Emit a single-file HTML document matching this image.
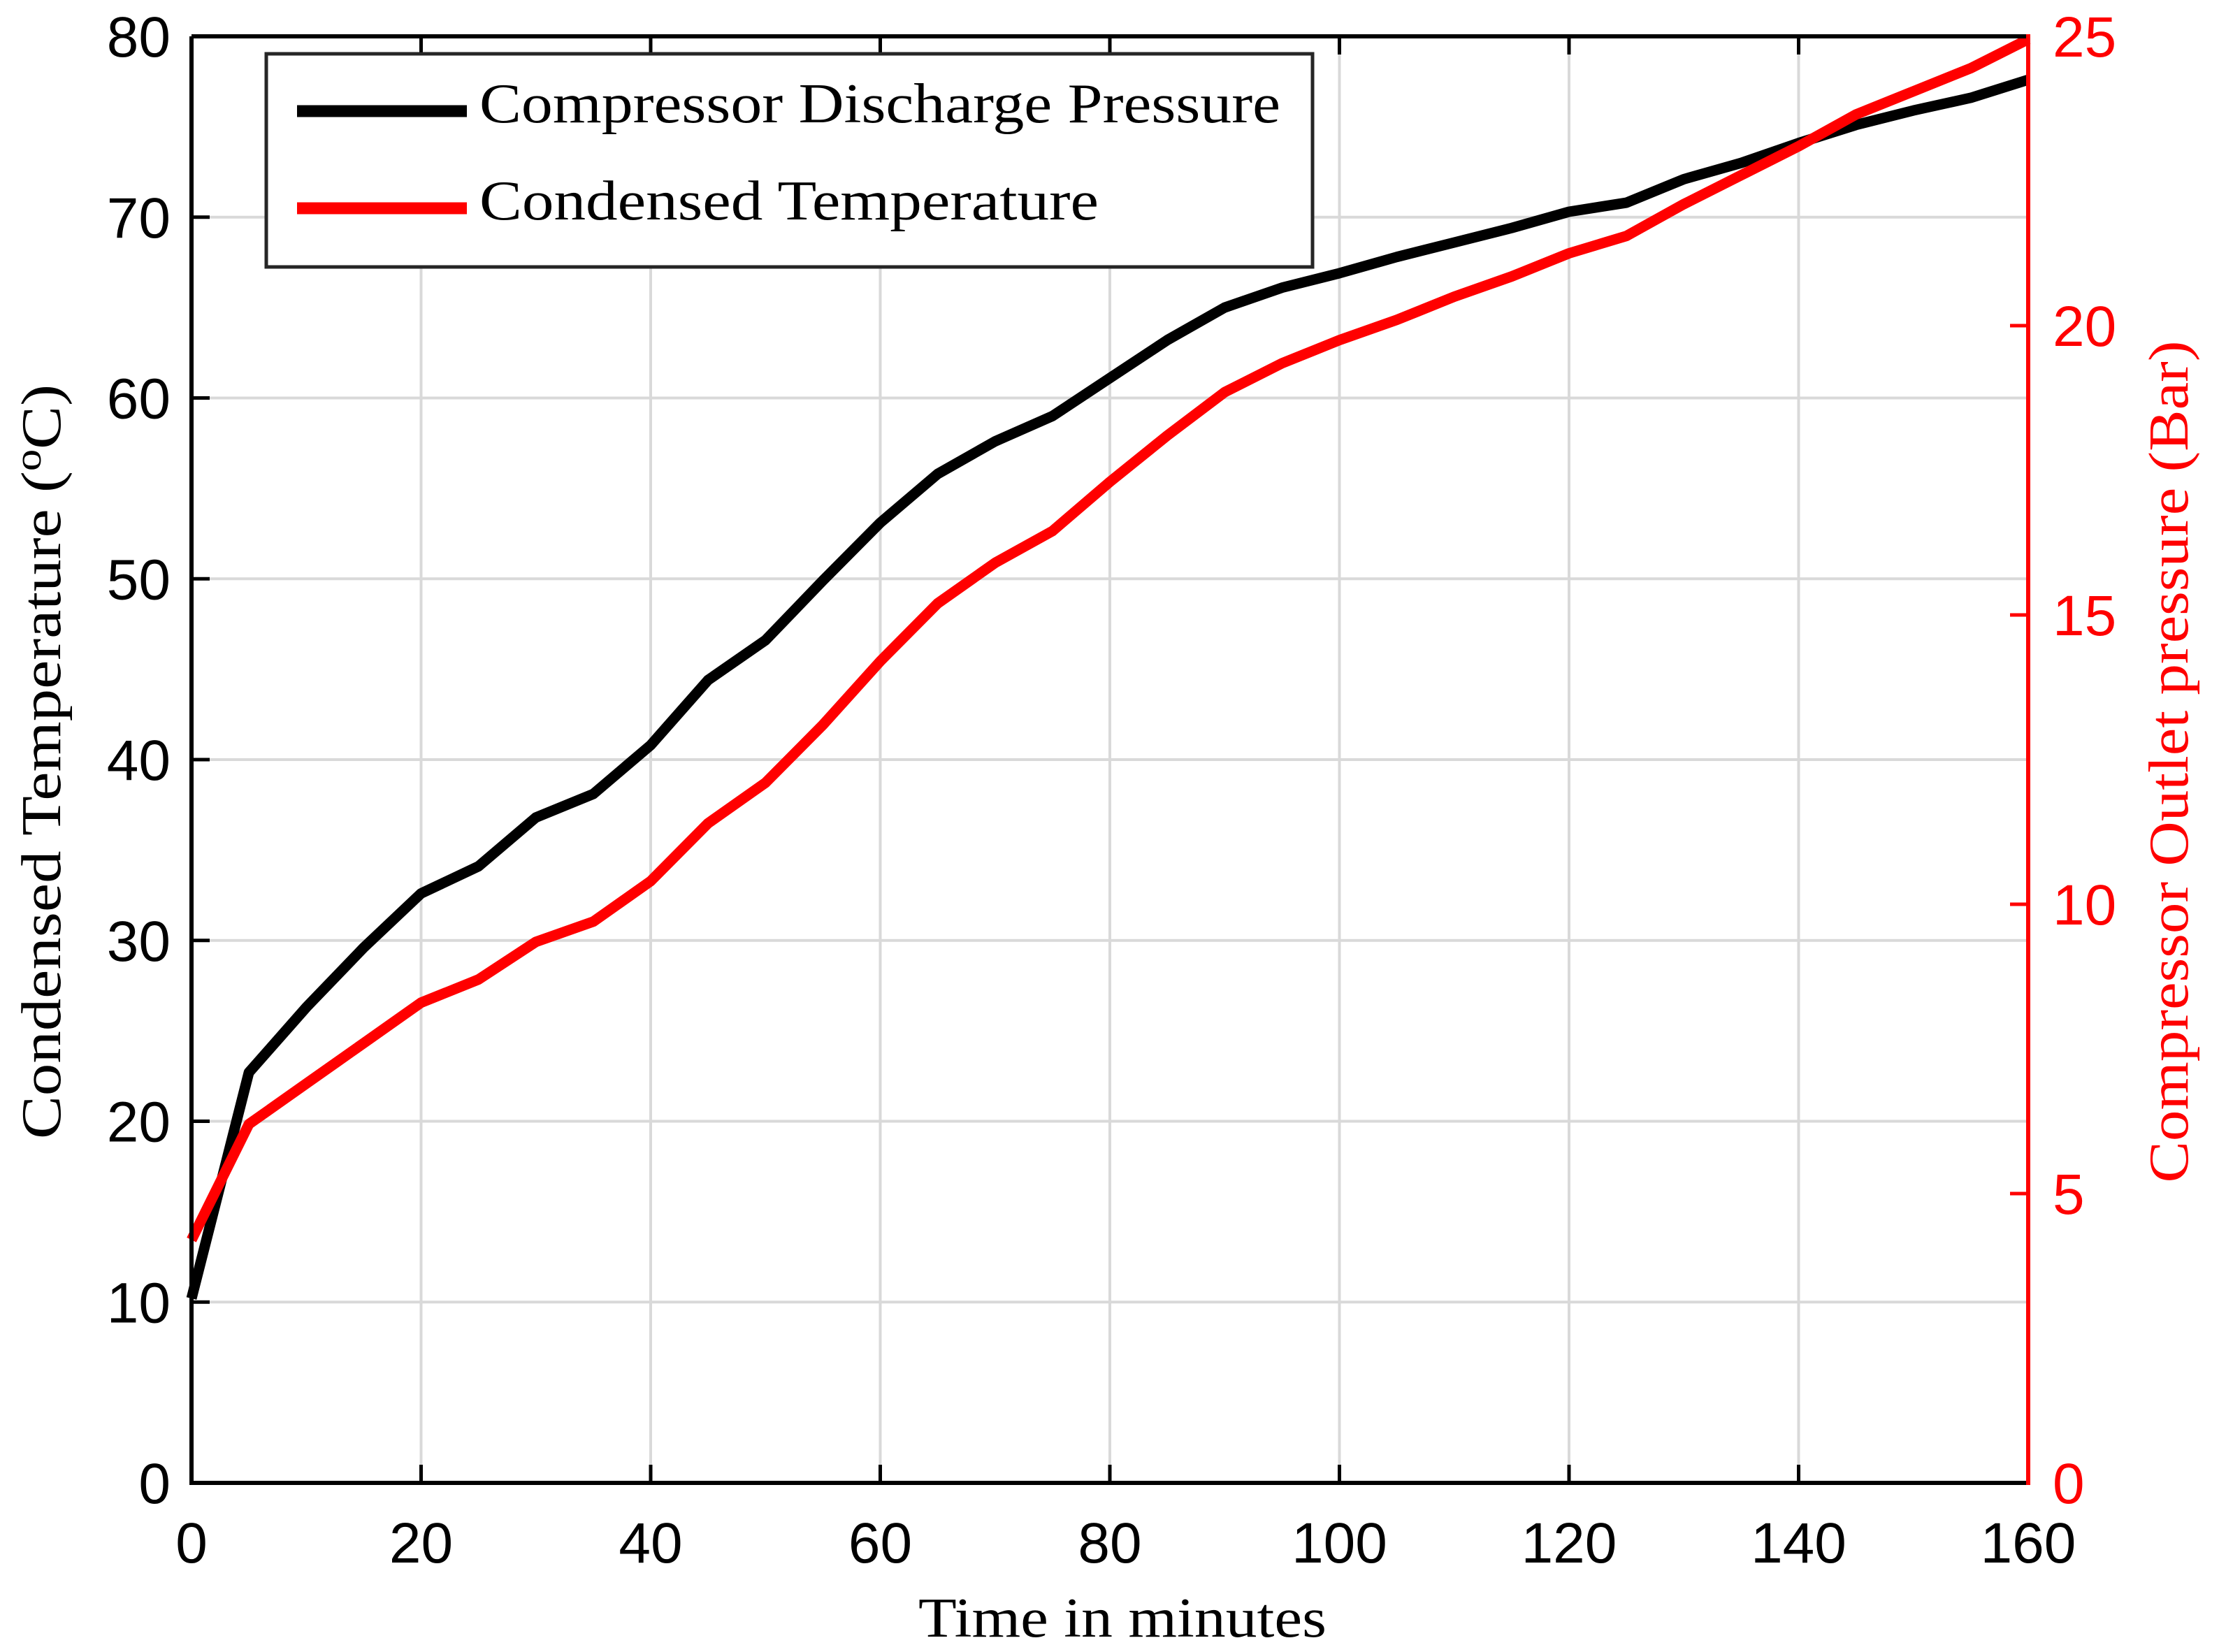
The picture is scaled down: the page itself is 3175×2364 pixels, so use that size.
<!DOCTYPE html>
<html><head><meta charset="utf-8"><style>
html,body{margin:0;padding:0;background:#fff;}
svg{display:block;}
.tk{font-family:"Liberation Sans",Arial,sans-serif;font-size:82px;}
.ser{font-family:"Liberation Serif","Times New Roman",serif;}
</style></head><body>
<svg id="chart" width="3175" height="2364" viewBox="0 0 3175 2364" xmlns="http://www.w3.org/2000/svg">
<g id="grid"></g>
<g id="series"></g>
<g id="axes"></g>
<g id="legend">
  <rect x="381" y="77" width="1497" height="305" fill="#fff" stroke="#262626" stroke-width="5"/>
  <line x1="425" y1="159" x2="668" y2="159" stroke="#000" stroke-width="17"/>
  <text class="ser" x="686" y="175" font-size="80" textLength="1146" lengthAdjust="spacingAndGlyphs">Compressor Discharge Pressure</text>
  <line x1="425" y1="298" x2="668" y2="298" stroke="#ff0000" stroke-width="17"/>
  <text class="ser" x="686" y="314" font-size="80" textLength="886" lengthAdjust="spacingAndGlyphs">Condensed Temperature</text>
</g>
<text class="ser" x="1606" y="2342" font-size="80" text-anchor="middle" textLength="584" lengthAdjust="spacingAndGlyphs">Time in minutes</text>
<text class="ser" font-size="80" text-anchor="middle" textLength="1080" lengthAdjust="spacingAndGlyphs" transform="translate(86,1090) rotate(-90)">Condensed Temperature  (<tspan font-size="54" dy="-28">o</tspan><tspan dy="28">C)</tspan></text>
<text class="ser" font-size="80" text-anchor="middle" fill="#ff0000" textLength="1205" lengthAdjust="spacingAndGlyphs" transform="translate(3130,1090) rotate(-90)">Compressor Outlet pressure (Bar)</text>
</svg>
<script>
const times = [0,5,10,15,20,25,30,35,40,45,50,55,60,65,70,75,80,85,90,95,100,105,110,115,120,125,130,135,140,145,150,155,160];
const pressureLeft = [10.2,22.7,26.3,29.6,32.6,34.1,36.8,38.1,40.8,44.4,46.6,49.9,53.1,55.8,57.6,59.0,61.1,63.2,65.0,66.1,66.9,67.8,68.6,69.4,70.3,70.8,72.1,73.0,74.1,75.1,75.9,76.6,77.6];
const tempRight = [4.2,6.2,6.9,7.6,8.3,8.7,9.35,9.7,10.4,11.4,12.1,13.1,14.2,15.2,15.9,16.45,17.3,18.1,18.85,19.35,19.75,20.1,20.5,20.85,21.25,21.55,22.1,22.6,23.1,23.65,24.05,24.45,24.95];
const xTicks = [0,20,40,60,80,100,120,140,160];
const yLeftTicks = [0,10,20,30,40,50,60,70,80];
const yRightTicks = [0,5,10,15,20,25];

const L=274,R=2902,T=52,B=2122;
const X=v=>L+(v-0)/(160-0)*(R-L);
const YL=v=>B-(v/80)*(B-T);
const YR=v=>B-(v/25)*(B-T);
const NS="http://www.w3.org/2000/svg";
function mk(tag,attrs,parent){const e=document.createElementNS(NS,tag);for(const k in attrs)e.setAttribute(k,attrs[k]);parent.appendChild(e);return e;}
const grid=document.getElementById('grid'),axes=document.getElementById('axes'),series=document.getElementById('series');

xTicks.forEach(v=>{
  const g=mk('line',{x1:X(v),x2:X(v),y1:T,y2:B,stroke:'#d9d9d9','stroke-width':4},grid);
  
  
  const t1=mk('line',{x1:X(v),x2:X(v),y1:B,y2:B-26,stroke:'#000','stroke-width':5},axes);
  
  
  const t2=mk('line',{x1:X(v),x2:X(v),y1:T,y2:T+26,stroke:'#000','stroke-width':5},axes);
  
  
  const lb=mk('text',{x:X(v),y:B+114,'text-anchor':'middle','class':'tk'},axes);
  lb.textContent=v;
  
  
});
yLeftTicks.forEach(v=>{
  const g=mk('line',{x1:L,x2:R,y1:YL(v),y2:YL(v),stroke:'#d9d9d9','stroke-width':4},grid);
  
  
  const t=mk('line',{x1:L,x2:L+26,y1:YL(v),y2:YL(v),stroke:'#000','stroke-width':5},axes);
  
  
  const lb=mk('text',{x:L-30,y:YL(v)+29,'text-anchor':'end','class':'tk'},axes);
  lb.textContent=v;
  
  
});
yRightTicks.forEach(v=>{
  const t=mk('line',{x1:R,x2:R-26,y1:YR(v),y2:YR(v),stroke:'#ff0000','stroke-width':5},axes);
  
  
  const lb=mk('text',{x:R+35,y:YR(v)+29,'text-anchor':'start','class':'tk',fill:'#ff0000'},axes);
  lb.textContent=v;
  
  
});
const ax1=mk('path',{d:`M${L},${T}H${R} M${L},${T}V${B}H${R}`,fill:'none',stroke:'#000','stroke-width':6},axes);


const ax2=mk('line',{x1:R,x2:R,y1:T-3,y2:B+3,stroke:'#ff0000','stroke-width':6},axes);



const pBlack=mk('polyline',{points:times.map((t,i)=>X(t)+','+YL(pressureLeft[i])).join(' '),fill:'none',stroke:'#000','stroke-width':15,'stroke-linejoin':'round'},series);


const pRed=mk('polyline',{points:times.map((t,i)=>X(t)+','+YR(tempRight[i])).join(' '),fill:'none',stroke:'#ff0000','stroke-width':15,'stroke-linejoin':'round'},series);


</script>
</body></html>
